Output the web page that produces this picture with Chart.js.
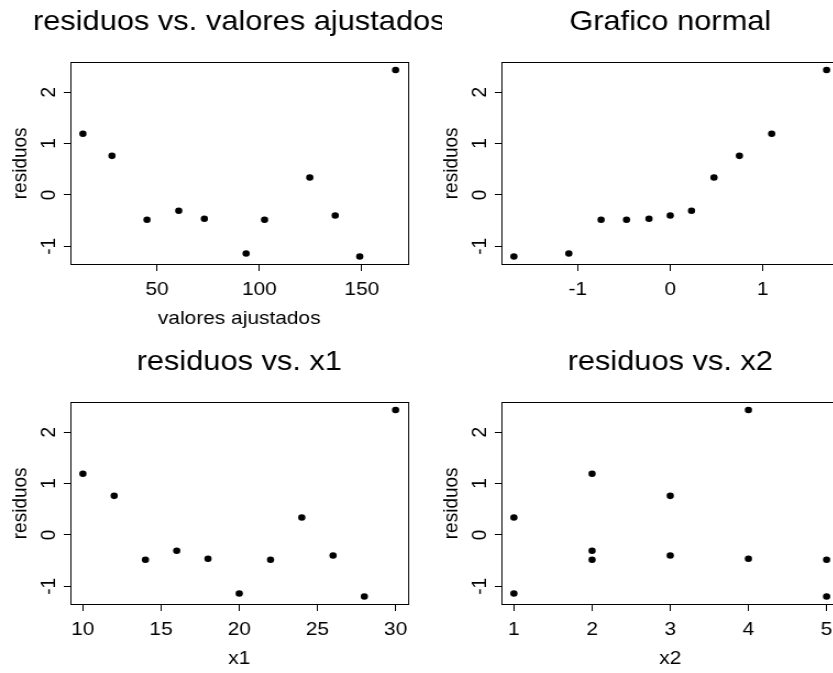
<!DOCTYPE html>
<html>
<head>
<meta charset="utf-8">
<script src="https://cdn.jsdelivr.net/npm/chart.js@4"></script>
<style>
  html, body { margin: 0; padding: 0; background: #fff; }
  body { width: 833px; height: 673px; overflow: hidden; position: relative; }
  .panel { position: absolute; overflow: hidden; }
  /* the original figure is a little wider than tall in its lettering */
  .panel canvas { display: block; transform: scaleX(1.1); transform-origin: 0 0; }
</style>
</head>
<body>
<div class="panel" style="left:0;top:0;width:442px;height:340px"><canvas id="fittedChart" width="435" height="340"></canvas></div>
<div class="panel" style="left:431px;top:0;width:402px;height:340px"><canvas id="normalChart" width="435" height="340"></canvas></div>
<div class="panel" style="left:0;top:340px;width:442px;height:333px"><canvas id="x1Chart" width="435" height="340"></canvas></div>
<div class="panel" style="left:431px;top:340px;width:402px;height:333px"><canvas id="x2Chart" width="435" height="340"></canvas></div>
<script>
const fitted = [13.8, 28.0, 45.1, 60.6, 73.1, 93.5, 102.5, 124.6, 137.0, 149.0, 166.5];
const residuos = [1.19, 0.76, -0.485, -0.31, -0.465, -1.14, -0.485, 0.34, -0.40, -1.20, 2.43];
const x1 = [10, 12, 14, 16, 18, 20, 22, 24, 26, 28, 30];
const x2 = [2, 3, 2, 2, 4, 1, 5, 1, 3, 5, 4];
// theoretical normal quantiles for n = 11
const qTeoricos = [-1.691, -1.097, -0.748, -0.473, -0.230, 0, 0.230, 0.473, 0.748, 1.097, 1.691];
const residuosOrdenados = residuos.slice().sort((a, b) => a - b);

// tick labels
const yTicks = [-1, 0, 1, 2];
const fittedTicks = [50, 100, 150];
const normalTicks = [-1, 0, 1];
const x1Ticks = [10, 15, 20, 25, 30];
const x2Ticks = [1, 2, 3, 4, 5];

Chart.defaults.font.family = '"Liberation Sans", Arial, Helvetica, sans-serif';
Chart.defaults.color = "#000";

// R-like range: data range extended by 4% each side
function rRange(v) {
    const lo = Math.min(...v);
    const hi = Math.max(...v);
    const pad = (hi - lo) * 0.04;
    return [lo - pad, hi + pad];
}

function residualPlot(id, xs, ys, xTicks, xTitle, title) {
    const [xmin, xmax] = rRange(xs);
    const [ymin, ymax] = rRange(ys);
    return new Chart(document.getElementById(id), {
        type: "scatter",
        data: {
            datasets: [
                {
                    data: xs.map((x, i) => ({ x: x, y: ys[i] })),
                    backgroundColor: "#000",
                    borderWidth: 0,
                    pointRadius: 3.3,
                },
            ],
        },
        options: {
            responsive: false,
            animation: false,
            events: [],
            layout: { padding: 0 },
            plugins: {
                legend: { display: false },
                tooltip: { enabled: false },
                title: {
                    display: true,
                    text: title,
                    color: "#000",
                    font: { size: 28, weight: "normal" },
                    padding: { top: 5, bottom: 24 },
                },
            },
            scales: {
                x: {
                    type: "linear",
                    position: "bottom",
                    min: xmin,
                    max: xmax,
                    afterBuildTicks: (s) => { s.ticks = xTicks.map((v) => ({ value: v })); },
                    afterFit: (s) => { s.height = 76; },
                    grid: { drawOnChartArea: false, color: "#000", tickLength: 7 },
                    border: { color: "#000", width: 1 },
                    ticks: { font: { size: 19 }, color: "#000", padding: 7, maxRotation: 0, autoSkip: false },
                    title: {
                        display: xTitle !== "",
                        text: xTitle,
                        color: "#000",
                        font: { size: 19 },
                        padding: { top: 0, bottom: 10 },
                    },
                },
                y: {
                    type: "linear",
                    position: "left",
                    min: ymin,
                    max: ymax,
                    afterBuildTicks: (s) => { s.ticks = yTicks.map((v) => ({ value: v })); },
                    afterFit: (s) => { s.width = 64; },
                    grid: { drawOnChartArea: false, color: "#000", tickLength: 6 },
                    border: { color: "#000", width: 1 },
                    ticks: {
                        font: { size: 19 },
                        color: "#000",
                        padding: 5,
                        minRotation: 90,
                        maxRotation: 90,
                        crossAlign: "center",
                        autoSkip: false,
                    },
                    title: {
                        display: true,
                        text: "residuos",
                        color: "#000",
                        font: { size: 19 },
                        padding: { top: 7, bottom: 0 },
                    },
                },
                // box around the plot region
                x2: {
                    type: "linear",
                    position: "top",
                    afterFit: (s) => { s.height = 0; },
                    ticks: { display: false },
                    grid: { display: false },
                    border: { color: "#000", width: 1 },
                },
                y2: {
                    type: "linear",
                    position: "right",
                    afterFit: (s) => { s.width = 64; },
                    ticks: { display: false },
                    grid: { display: false },
                    border: { color: "#000", width: 1 },
                },
            },
        },
    });
}

residualPlot("fittedChart", fitted, residuos, fittedTicks, "valores ajustados", "residuos vs. valores ajustados");
residualPlot("normalChart", qTeoricos, residuosOrdenados, normalTicks, "", "Grafico normal");
residualPlot("x1Chart", x1, residuos, x1Ticks, "x1", "residuos vs. x1");
residualPlot("x2Chart", x2, residuos, x2Ticks, "x2", "residuos vs. x2");
</script>
</body>
</html>
